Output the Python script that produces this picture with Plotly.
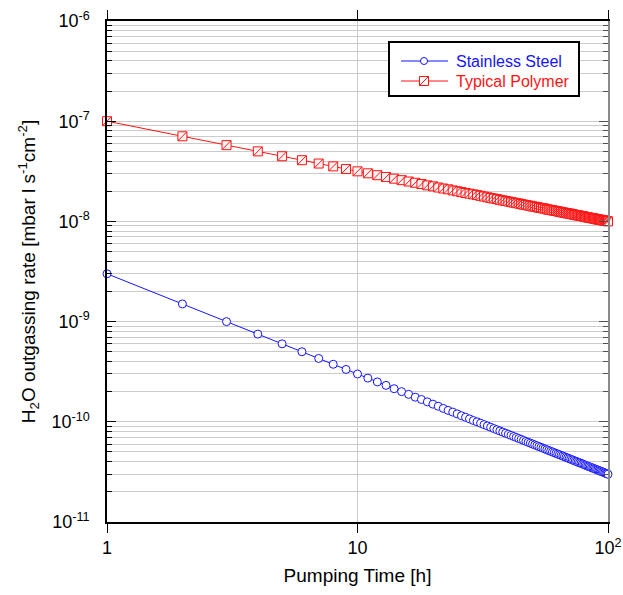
import plotly.graph_objects as go

# Pumping time in hours
TIME_H = [1, 2, 3, 4, 5, 6, 7, 8, 9, 10, 11, 12, 13, 14, 15, 16, 17, 18, 19, 20,
          21, 22, 23, 24, 25, 26, 27, 28, 29, 30, 31, 32, 33, 34, 35, 36, 37, 38, 39, 40,
          41, 42, 43, 44, 45, 46, 47, 48, 49, 50, 51, 52, 53, 54, 55, 56, 57, 58, 59, 60,
          61, 62, 63, 64, 65, 66, 67, 68, 69, 70, 71, 72, 73, 74, 75, 76, 77, 78, 79, 80,
          81, 82, 83, 84, 85, 86, 87, 88, 89, 90, 91, 92, 93, 94, 95, 96, 97, 98, 99, 100]

# H2O outgassing rate of stainless steel [mbar l s^-1 cm^-2]
STEEL = [3.00e-9, 1.50e-9, 1.00e-9, 7.50e-10, 6.00e-10, 5.00e-10, 4.29e-10, 3.75e-10, 3.33e-10, 3.00e-10,
         2.73e-10, 2.50e-10, 2.31e-10, 2.14e-10, 2.00e-10, 1.88e-10, 1.76e-10, 1.67e-10, 1.58e-10, 1.50e-10,
         1.43e-10, 1.36e-10, 1.30e-10, 1.25e-10, 1.20e-10, 1.15e-10, 1.11e-10, 1.07e-10, 1.03e-10, 1.00e-10,
         9.68e-11, 9.38e-11, 9.09e-11, 8.82e-11, 8.57e-11, 8.33e-11, 8.11e-11, 7.89e-11, 7.69e-11, 7.50e-11,
         7.32e-11, 7.14e-11, 6.98e-11, 6.82e-11, 6.67e-11, 6.52e-11, 6.38e-11, 6.25e-11, 6.12e-11, 6.00e-11,
         5.88e-11, 5.77e-11, 5.66e-11, 5.56e-11, 5.45e-11, 5.36e-11, 5.26e-11, 5.17e-11, 5.08e-11, 5.00e-11,
         4.92e-11, 4.84e-11, 4.76e-11, 4.69e-11, 4.62e-11, 4.55e-11, 4.48e-11, 4.41e-11, 4.35e-11, 4.29e-11,
         4.23e-11, 4.17e-11, 4.11e-11, 4.05e-11, 4.00e-11, 3.95e-11, 3.90e-11, 3.85e-11, 3.80e-11, 3.75e-11,
         3.70e-11, 3.66e-11, 3.61e-11, 3.57e-11, 3.53e-11, 3.49e-11, 3.45e-11, 3.41e-11, 3.37e-11, 3.33e-11,
         3.30e-11, 3.26e-11, 3.23e-11, 3.19e-11, 3.16e-11, 3.13e-11, 3.09e-11, 3.06e-11, 3.03e-11, 3.00e-11]

# H2O outgassing rate of a typical polymer [mbar l s^-1 cm^-2]
POLYMER = [1.00e-7, 7.07e-8, 5.77e-8, 5.00e-8, 4.47e-8, 4.08e-8, 3.78e-8, 3.54e-8, 3.33e-8, 3.16e-8,
           3.02e-8, 2.89e-8, 2.77e-8, 2.67e-8, 2.58e-8, 2.50e-8, 2.43e-8, 2.36e-8, 2.29e-8, 2.24e-8,
           2.18e-8, 2.13e-8, 2.09e-8, 2.04e-8, 2.00e-8, 1.96e-8, 1.92e-8, 1.89e-8, 1.86e-8, 1.83e-8,
           1.80e-8, 1.77e-8, 1.74e-8, 1.71e-8, 1.69e-8, 1.67e-8, 1.64e-8, 1.62e-8, 1.60e-8, 1.58e-8,
           1.56e-8, 1.54e-8, 1.52e-8, 1.51e-8, 1.49e-8, 1.47e-8, 1.46e-8, 1.44e-8, 1.43e-8, 1.41e-8,
           1.40e-8, 1.39e-8, 1.37e-8, 1.36e-8, 1.35e-8, 1.34e-8, 1.32e-8, 1.31e-8, 1.30e-8, 1.29e-8,
           1.28e-8, 1.27e-8, 1.26e-8, 1.25e-8, 1.24e-8, 1.23e-8, 1.22e-8, 1.21e-8, 1.20e-8, 1.20e-8,
           1.19e-8, 1.18e-8, 1.17e-8, 1.16e-8, 1.15e-8, 1.15e-8, 1.14e-8, 1.13e-8, 1.13e-8, 1.12e-8,
           1.11e-8, 1.10e-8, 1.10e-8, 1.09e-8, 1.08e-8, 1.08e-8, 1.07e-8, 1.07e-8, 1.06e-8, 1.05e-8,
           1.05e-8, 1.04e-8, 1.04e-8, 1.03e-8, 1.03e-8, 1.02e-8, 1.02e-8, 1.01e-8, 1.01e-8, 1.00e-8]

X_TICKS = [1, 10, 100]
X_TICK_TEXT = ["1", "10", "10<sup>2</sup>"]
Y_TICKS = [1e-11, 1e-10, 1e-9, 1e-8, 1e-7, 1e-6]
Y_TICK_TEXT = ["10<sup>-11</sup>", "10<sup>-10</sup>", "10<sup>-9</sup>",
               "10<sup>-8</sup>", "10<sup>-7</sup>", "10<sup>-6</sup>"]
Y_MINOR = [m * d for d in [1e-11, 1e-10, 1e-9, 1e-8, 1e-7] for m in range(2, 10)]

SERIES_NAMES = ["Stainless Steel", "Typical Polymer"]
BLUE = "#1414ff"
RED = "#ff1414"
GRID = "#cbcbcb"
FONT = "Arial, Liberation Sans, sans-serif"

fig = go.Figure()

fig.add_trace(go.Scatter(
    x=TIME_H, y=STEEL, mode="lines+markers", name=SERIES_NAMES[0],
    line=dict(color=BLUE, width=1),
    marker=dict(symbol="circle", size=8, color="white", line=dict(color=BLUE, width=1)),
    cliponaxis=False, showlegend=False,
))
fig.add_trace(go.Scatter(
    x=TIME_H, y=POLYMER, mode="lines+markers", name=SERIES_NAMES[1],
    line=dict(color=RED, width=1),
    marker=dict(symbol="square", size=9, color="#fff2f2", line=dict(color=RED, width=1)),
    cliponaxis=False, showlegend=False,
))
# diagonal stroke inside each polymer square
fig.add_trace(go.Scatter(
    x=TIME_H, y=POLYMER, mode="markers", hoverinfo="skip",
    marker=dict(symbol="line-ne", size=9, line=dict(color=RED, width=1)),
    cliponaxis=False, showlegend=False,
))
# carrier trace for the right-hand axis
fig.add_trace(go.Scatter(
    x=[X_TICKS[0]], y=[Y_TICKS[0]], yaxis="y2", mode="markers",
    marker=dict(opacity=0), hoverinfo="skip", showlegend=False,
))

fig.update_layout(
    width=623, height=595, autosize=False,
    margin=dict(l=107, r=15, t=21, b=73),
    paper_bgcolor="white", plot_bgcolor="white",
    font=dict(family=FONT, color="black", size=16),
    xaxis=dict(
        type="log", range=[0, 2], automargin=False,
        tickmode="array", tickvals=X_TICKS, ticktext=X_TICK_TEXT,
        ticks="outside", ticklen=9, tickwidth=1, tickcolor="black",
        tickfont=dict(size=18),
        showline=True, linecolor="black", linewidth=1.5, mirror="ticks",
        showgrid=True, gridcolor=GRID, gridwidth=1,
        zeroline=False,
        title=dict(text="Pumping Time [h]", font=dict(size=19), standoff=11),
    ),
    yaxis=dict(
        type="log", range=[-11, -6], automargin=False,
        tickmode="array", tickvals=Y_TICKS, ticktext=Y_TICK_TEXT,
        ticks="inside", ticklen=9, tickwidth=1, tickcolor="black",
        tickfont=dict(size=18), ticklabelstandoff=12,
        showline=True, linecolor="black", linewidth=1.5,
        showgrid=True, gridcolor=GRID, gridwidth=1,
        minor=dict(tickmode="array", tickvals=Y_MINOR, ticks="inside", ticklen=5,
                   tickcolor="black", showgrid=True, gridcolor=GRID, gridwidth=1),
        zeroline=False,
        title=dict(text="H<sub>2</sub>O outgassing rate [mbar l s<sup>-1</sup>cm<sup>-2</sup>]",
                   font=dict(size=19), standoff=11),
    ),
    yaxis2=dict(
        type="log", range=[-11, -6], overlaying="y", side="right", automargin=False,
        tickmode="array", tickvals=Y_TICKS, showticklabels=False,
        ticks="inside", ticklen=9, tickwidth=1, tickcolor="#505050",
        showline=True, linecolor="#8a8a8a", linewidth=1.5,
        showgrid=False, zeroline=False,
        minor=dict(tickmode="array", tickvals=Y_MINOR, ticks="inside", ticklen=5,
                   tickcolor="#505050", showgrid=False),
    ),
    showlegend=False,
)

# legend box drawn by hand so the polymer sample keeps its diagonal stroke
def px_x(p):
    return (p - 107) / 501

def px_y(p):
    return 1 - (p - 21) / 501

box = dict(type="rect", xref="paper", yref="paper",
           x0=px_x(389), x1=px_x(579), y0=px_y(96), y1=px_y(42),
           line=dict(color="black", width=2), fillcolor="white", layer="above")
shapes = [box]
rows = [(px_y(61), BLUE), (px_y(81), RED)]
for yy, col in rows:
    shapes.append(dict(type="line", xref="paper", yref="paper",
                       x0=px_x(401), x1=px_x(448), y0=yy, y1=yy,
                       line=dict(color=col, width=1), layer="above"))
cx = px_x(424)
shapes.append(dict(type="circle", xref="paper", yref="paper",
                   xsizemode="pixel", ysizemode="pixel", xanchor=cx, yanchor=rows[0][0],
                   x0=-3.5, x1=3.5, y0=-3.5, y1=3.5,
                   line=dict(color=BLUE, width=1), fillcolor="white", layer="above"))
shapes.append(dict(type="rect", xref="paper", yref="paper",
                   xsizemode="pixel", ysizemode="pixel", xanchor=cx, yanchor=rows[1][0],
                   x0=-4.5, x1=4.5, y0=-4.5, y1=4.5,
                   line=dict(color=RED, width=1), fillcolor="white", layer="above"))
shapes.append(dict(type="line", xref="paper", yref="paper",
                   xsizemode="pixel", ysizemode="pixel", xanchor=cx, yanchor=rows[1][0],
                   x0=-4.5, x1=4.5, y0=-4.5, y1=4.5,
                   line=dict(color=RED, width=1), layer="above"))
fig.update_layout(shapes=shapes)

for (yy, col), label in zip(rows, SERIES_NAMES):
    fig.add_annotation(x=px_x(454), y=yy, xref="paper", yref="paper",
                       xanchor="left", yanchor="middle", showarrow=False,
                       text=label, font=dict(size=16, color=col, family=FONT))

fig.write_html("out.html")
